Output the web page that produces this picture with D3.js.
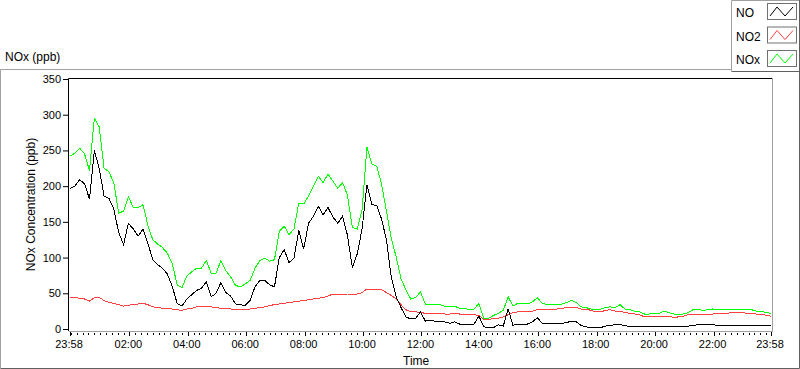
<!DOCTYPE html>
<html>
<head>
<meta charset="utf-8">
<script src="https://cdn.jsdelivr.net/npm/d3@7"></script>
<style>
body { margin: 0; background: #fff; }
text { font-family: "Liberation Sans", Arial, sans-serif; fill: #000; }
</style>
</head>
<body>
<div id="chart"></div>
<script>
// one reading every 10 minutes, starting 23:58
const stepMinutes = 10;

const noValues = [
    197, 200, 209, 203, 182, 250, 225, 186, 183, 168, 135, 118, 148, 140, 130, 140, 120, 97, 90, 85, 77, 60, 36, 32, 42, 48, 54,
    57, 66, 45, 50, 65, 51, 46, 35, 34, 33, 40, 59, 68, 68, 62, 59, 100, 111, 93, 99, 138, 112, 148, 158, 172, 160, 170,
    157, 148, 158, 131, 86, 105, 140, 202, 174, 173, 154, 125, 72, 45, 30, 17, 14, 15, 24, 11, 12, 11, 10, 10, 8,
    10, 7, 7, 7, 7, 18, 3, 2, 2, 6, 4, 28, 5, 7, 7, 7, 10, 16, 8, 8, 8, 8, 8, 9, 11, 10, 5, 3, 2, 2, 2, 4, 5,
    6, 6, 5, 3, 3, 3, 3, 3, 3, 3, 4, 4, 4, 4, 4, 4, 5, 6, 6, 6, 6, 5, 5, 5, 5, 5, 5, 5, 5, 5, 5, 5, 5
];

const no2Values = [
    44, 44, 43, 42, 39, 44, 44, 40, 37, 36, 34, 32, 33, 35, 35, 36, 34, 31, 30, 29, 29, 28, 27, 26, 28, 29, 31,
    31, 31, 31, 30, 29, 29, 28, 27, 27, 27, 28, 29, 30, 31, 33, 34, 35, 36, 37, 38, 39, 40, 41, 42, 43, 44, 46,
    49, 49, 49, 49, 48, 49, 51, 56, 56, 56, 55, 51, 47, 42, 34, 27, 24, 24, 23, 22, 22, 22, 22, 21, 21,
    22, 21, 20, 20, 20, 19, 13, 13, 15, 15, 17, 20, 23, 24, 24, 24, 25, 27, 27, 28, 28, 28, 29, 30, 30, 30, 28, 28, 26, 24, 24, 26, 27,
    25, 25, 23, 22, 21, 20, 17, 17, 17, 17, 18, 18, 16, 17, 18, 20, 21, 21, 21, 21, 21, 22, 22, 22, 23, 23, 23, 22, 22, 21, 21, 19, 18
];

const noxValues = [
    242, 246, 253, 245, 222, 295, 283, 225, 220, 205, 162, 165, 185, 170, 170, 174, 145, 125, 119, 114, 106, 92, 62, 58, 74, 80, 85,
    85, 96, 78, 78, 96, 82, 73, 61, 59, 63, 68, 85, 96, 99, 95, 97, 137, 144, 132, 140, 176, 175, 186, 200, 214, 205, 217,
    207, 197, 205, 187, 142, 140, 167, 255, 231, 228, 203, 165, 127, 101, 70, 55, 42, 44, 52, 35, 35, 35, 34, 32, 31,
    32, 29, 29, 27, 28, 36, 15, 15, 19, 22, 26, 45, 32, 36, 36, 35, 38, 44, 36, 34, 34, 35, 35, 37, 40, 37, 31, 30, 28, 27, 28, 30, 31,
    30, 34, 28, 27, 25, 24, 21, 21, 22, 22, 25, 23, 21, 21, 21, 23, 27, 28, 26, 27, 28, 27, 27, 27, 27, 28, 28, 27, 27, 25, 25, 23, 22
];

const seriesNames = ["NO", "NO2", "NOx"];
const seriesColors = ["#000000", "#ff4040", "#00ff00"];
const timeLabels = ["23:58", "02:00", "04:00", "06:00", "08:00", "10:00", "12:00",
                    "14:00", "16:00", "18:00", "20:00", "22:00", "23:58"];
const yTicks = [0, 50, 100, 150, 200, 250, 300, 350];

const width = 800, height = 369;
const plot = {left: 68, right: 772, top: 78, bottom: 331};

const start = new Date(2000, 0, 1, 23, 58);
const end = new Date(2000, 0, 2, 23, 58);
const times = noValues.map((d, i) => new Date(start.getTime() + i * stepMinutes * 60000));

const series = seriesNames.map((name, j) => ({
    name: name,
    color: seriesColors[j],
    values: [noValues, no2Values, noxValues][j].map((v, i) => ({t: times[i], v: v}))
}));

const svg = d3.select("#chart")
    .append("svg")
    .attr("width", width)
    .attr("height", height);

const x = d3.scaleTime().domain([start, end]).range([70, 771]);
const y = d3.scaleLinear().domain([0, 350]).range([329, 79]);

// outer frame
svg.append("path")
    .attr("d", "M0.5,368.5 V69.5 H731")
    .attr("fill", "none").attr("stroke", "#a0a0a0");
svg.append("path")
    .attr("d", "M0.5,368.5 H799.5 V69")
    .attr("fill", "none").attr("stroke", "#606060");

// chart title
svg.append("text")
    .attr("x", 5).attr("y", 61)
    .style("font-size", "12px")
    .text("NOx (ppb)");

// plot area
svg.append("rect")
    .attr("x", plot.left).attr("y", plot.top)
    .attr("width", plot.right - plot.left).attr("height", plot.bottom - plot.top)
    .attr("fill", "#fff");

svg.append("clipPath").attr("id", "clip")
    .append("rect")
    .attr("x", plot.left + 1).attr("y", plot.top + 1)
    .attr("width", plot.right - plot.left - 1).attr("height", plot.bottom - plot.top - 1);

const line = d3.line()
    .x(d => x(d.t))
    .y(d => y(d.v));

svg.append("g")
    .attr("clip-path", "url(#clip)")
    .selectAll("path")
    .data([series[1], series[2], series[0]])
    .enter()
    .append("path")
    .attr("d", d => line(d.values))
    .attr("fill", "none")
    .attr("stroke", d => d.color)
    .attr("stroke-width", 1)
    .style("shape-rendering", "crispEdges");

// sunken border
svg.append("path")
    .attr("d", `M${plot.left + 0.5},${plot.bottom} V${plot.top + 0.5} H${plot.right}`)
    .attr("fill", "none").attr("stroke", "#000");
svg.append("path")
    .attr("d", `M${plot.left + 1},${plot.bottom + 0.5} H${plot.right + 0.5} V${plot.top}`)
    .attr("fill", "none").attr("stroke", "#a0a0a0");

// y axis
const yAxis = d3.axisLeft(y)
    .tickValues(yTicks)
    .tickSize(5)
    .tickPadding(2);
const gy = svg.append("g")
    .attr("transform", `translate(${plot.left},0)`)
    .call(yAxis);
gy.select(".domain").remove();
gy.selectAll("line").attr("stroke", "#000");
gy.selectAll("text").style("font-size", "11px").attr("fill", "#000");

svg.append("text")
    .attr("transform", `translate(35,${(plot.top + plot.bottom) / 2}) rotate(-90)`)
    .attr("text-anchor", "middle")
    .style("font-size", "12px")
    .text("NOx Concentration (ppb)");

// x axis: major ticks at labels, minor every 12 minutes
const majorTimes = timeLabels.map((s, i) => {
    if (i === 0) return start;
    if (i === timeLabels.length - 1) return end;
    const [h, m] = s.split(":").map(Number);
    return new Date(2000, 0, 2, h, m);
});
const minorTimes = d3.timeMinute.every(12).range(new Date(2000, 0, 2, 0, 0), end);

svg.append("g")
    .selectAll("line")
    .data(minorTimes)
    .enter()
    .append("line")
    .attr("x1", d => Math.round(x(d)) + 0.5)
    .attr("x2", d => Math.round(x(d)) + 0.5)
    .attr("y1", plot.bottom + 2)
    .attr("y2", plot.bottom + 4)
    .attr("stroke", "#000");

svg.append("g")
    .selectAll("line")
    .data(majorTimes)
    .enter()
    .append("line")
    .attr("x1", d => Math.round(x(d)) + 0.5)
    .attr("x2", d => Math.round(x(d)) + 0.5)
    .attr("y1", plot.bottom + 1)
    .attr("y2", plot.bottom + 5)
    .attr("stroke", "#000");

svg.append("g")
    .selectAll("text")
    .data(majorTimes)
    .enter()
    .append("text")
    .attr("x", d => x(d) - 1)
    .attr("y", 348)
    .attr("text-anchor", "middle")
    .style("font-size", "11px")
    .text((d, i) => timeLabels[i]);

svg.append("text")
    .attr("x", 403).attr("y", 365)
    .style("font-size", "12px")
    .text("Time");

// legend
const legend = svg.append("g");
legend.append("path")
    .attr("d", "M731.5,71 V0.5 H799")
    .attr("fill", "none").attr("stroke", "#a0a0a0");
legend.append("path")
    .attr("d", "M731.5,71.5 H799.5 V0")
    .attr("fill", "none").attr("stroke", "#606060");

const item = legend.selectAll(".item")
    .data(series)
    .enter()
    .append("g")
    .attr("class", "item")
    .attr("transform", (d, i) => `translate(0,${i * 23.5})`);

item.append("text")
    .attr("x", 736).attr("y", 17)
    .style("font-size", "12px")
    .text(d => d.name);

item.append("rect")
    .attr("x", 767.5).attr("y", 3.5)
    .attr("width", 29).attr("height", 16)
    .attr("fill", "#fff")
    .attr("stroke", "#707070");

item.append("path")
    .attr("d", "M770,16 L777,7 L785,16 L793,7")
    .attr("fill", "none")
    .attr("stroke", d => d.color);
</script>
</body>
</html>
